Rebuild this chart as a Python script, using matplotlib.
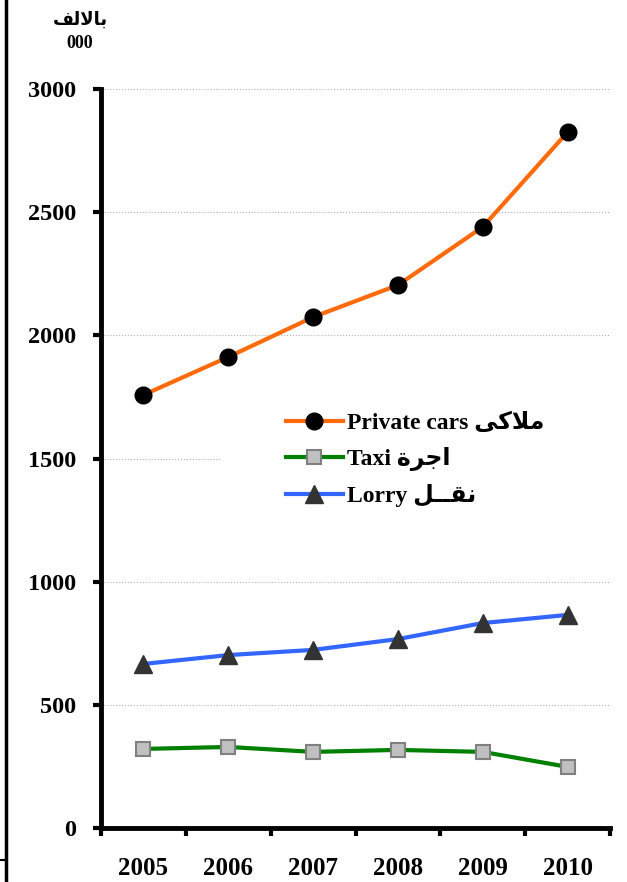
import matplotlib
matplotlib.use("Agg")
import matplotlib.pyplot as plt
from matplotlib.lines import Line2D
from matplotlib.patches import Rectangle

plt.rcParams['font.family'] = ['Liberation Serif', 'DejaVu Sans']
plt.rcParams['font.weight'] = 'bold'

years = ['2005', '2006', '2007', '2008', '2009', '2010']
private_cars = [1758, 1912, 2074, 2204, 2440, 2825]
taxi = [321, 329, 309, 317, 309, 248]
lorry = [666, 702, 723, 767, 832, 865]

# Arabic words written as presentation forms in visual order
lbl_private = 'Private cars \ufef0\ufedb\ufefc\ufee3'
lbl_taxi = 'Taxi \ufe93\ufeae\ufe9f\ufe8d'
lbl_lorry = 'Lorry \ufede\u0640\u0640\ufed8\ufee7'
unit_ar = '\ufed2\ufedf\ufefb\ufe8e\ufe91'

fig = plt.figure(figsize=(6.27, 8.82), dpi=100)
ax = fig.add_axes([101 / 627, 1 - 828 / 882, 509 / 627, 739 / 882])

x = list(range(len(years)))
ax.plot(x, private_cars, color='#FF6A0A', lw=3, marker='o', ms=12,
        mfc='black', mec='black', label=lbl_private, zorder=4)
ax.plot(x, taxi, color='#008000', lw=3, marker='s', ms=10.5,
        mfc='#C0C0C0', mec='#808080', mew=1.5, label=lbl_taxi, zorder=4)
ax.plot(x, lorry, color='#3366FF', lw=3, marker='^', ms=12.5,
        mfc='#333333', mec='#333333', label=lbl_lorry, zorder=4)

ax.set_xlim(-0.5, len(years) - 0.5)
ax.set_ylim(0, 3000)
ax.set_yticks(range(0, 3001, 500))
ax.set_xticks([i - 0.5 for i in range(len(years) + 1)])
ax.set_xticklabels([])
ax.set_xticks(x, minor=True)
ax.set_xticklabels(years, minor=True)
ax.tick_params(axis='x', which='minor', length=0, pad=21, labelsize=18)
ax.tick_params(axis='x', which='major', direction='out', length=6, width=3)
ax.tick_params(axis='y', direction='out', length=6, width=3, pad=12, labelsize=17.5)

ax.grid(axis='y', color='#B0B0B0', linestyle=':', lw=0.8, zorder=0)
ax.set_axisbelow(True)
for s in ('top', 'right'):
    ax.spines[s].set_visible(False)
ax.spines['left'].set_linewidth(3.5)
ax.spines['bottom'].set_linewidth(3.5)

# white box behind the legend hides the gridline there
ax.add_patch(Rectangle((0.238, 0.415), 0.77, 0.17, transform=ax.transAxes,
                       facecolor='white', edgecolor='none', zorder=1,
                       clip_on=False))
leg = ax.legend(loc='upper left', bbox_to_anchor=(0.345, 0.575), frameon=False,
                fontsize=17, handlelength=2.4, handletextpad=0.2,
                labelspacing=0.55, borderaxespad=0)

fig.text(80 / 627, 1 - 20 / 882, unit_ar, ha='center', va='center',
         fontsize=13, fontweight='bold')
fig.text(80 / 627, 1 - 44 / 882, '000', ha='center', va='center',
         fontsize=13, fontweight='bold')

# frame line on the left edge
fig.add_artist(Line2D([6 / 627, 6 / 627], [0, 1], color='black', lw=2.5))
fig.add_artist(Line2D([0, 6 / 627], [1 - 860 / 882] * 2, color='black', lw=1.5))

fig.savefig('out.png', dpi=100)
